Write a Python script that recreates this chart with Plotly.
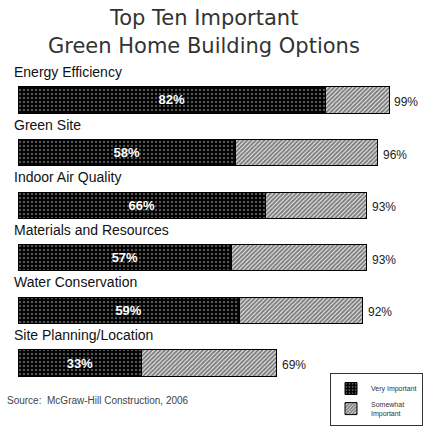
import plotly.graph_objects as go

# Survey results: share of respondents rating each option
options = [
    "Energy Efficiency",
    "Green Site",
    "Indoor Air Quality",
    "Materials and Resources",
    "Water Conservation",
    "Site Planning/Location",
]
very_important = [82, 58, 66, 57, 59, 33]
total_important = [99, 96, 93, 93, 92, 69]
somewhat_important = [t - v for t, v in zip(total_important, very_important)]

title_lines = ["Top Ten Important", "Green Home Building Options"]
source_text = "Source:  McGraw-Hill Construction, 2006"

ypos = list(range(len(options)))
FONT = "Liberation Sans, Arial, sans-serif"
TITLE_FONT = "DejaVu Sans, sans-serif"

fig = go.Figure()

fig.add_trace(go.Bar(
    name="Very Important",
    y=ypos,
    x=very_important,
    orientation="h",
    width=0.5,
    text=[f"{v}%" for v in very_important],
    textposition="inside",
    insidetextanchor="middle",
    textfont=dict(family=FONT, size=13, color="white", weight="bold"),
    marker=dict(
        color="black",
        line=dict(color="black", width=1),
        pattern=dict(shape=".", bgcolor="black", fgcolor="#a8a8a8",
                     size=4, solidity=0.3),
    ),
    hoverinfo="skip",
))

fig.add_trace(go.Bar(
    name="Somewhat<br>Important",
    y=ypos,
    x=somewhat_important,
    orientation="h",
    width=0.5,
    marker=dict(
        color="white",
        line=dict(color="black", width=1),
        pattern=dict(shape="/", bgcolor="white", fgcolor="black",
                     size=3, solidity=0.72),
    ),
    hoverinfo="skip",
))

annotations = []
# Option names above each bar
for i, name in enumerate(options):
    annotations.append(dict(
        x=0, xref="paper", y=i, yref="y", text=name, showarrow=False,
        xanchor="left", yanchor="middle", xshift=-6, yshift=28,
        font=dict(family=FONT, size=14, color="#111"),
    ))
# Combined percentage to the right of each bar
for i, t in enumerate(total_important):
    annotations.append(dict(
        x=t, xref="x", y=i, yref="y", text=f"{t}%", showarrow=False,
        xanchor="left", yanchor="middle", xshift=3, yshift=-2,
        font=dict(family=FONT, size=12, color="#222"),
    ))

H = 427
top, bottom = 60, 24
plot_h = H - top - bottom


def paper_y(px):
    return (H - bottom - px) / plot_h


# Title, two centred lines
for text, py in zip(title_lines, (18, 46)):
    annotations.append(dict(
        x=0.5, xref="paper", y=paper_y(py), yref="paper", text=text,
        showarrow=False, xanchor="center", yanchor="middle", xshift=-19,
        font=dict(family=TITLE_FONT, size=21, color="#333"),
    ))
# Source note
annotations.append(dict(
    x=0, xref="paper", y=paper_y(400), yref="paper", text=source_text,
    showarrow=False, xanchor="left", yanchor="middle", xshift=-13,
    font=dict(family=FONT, size=10, color="#444"),
))

fig.update_layout(
    width=428,
    height=H,
    margin=dict(l=18, r=1, t=top, b=bottom),
    paper_bgcolor="white",
    plot_bgcolor="white",
    barmode="stack",
    xaxis=dict(range=[0, 109.07], visible=False, fixedrange=True),
    yaxis=dict(range=[5.76, -0.76], visible=False, fixedrange=True),
    annotations=annotations,
    showlegend=True,
    legend=dict(
        x=(330 - 18) / 409, xanchor="left",
        y=paper_y(373), yanchor="top",
        bgcolor="white",
        bordercolor="#333", borderwidth=1,
        font=dict(family=FONT, size=7, color="#333"),
        traceorder="normal",
        itemwidth=30,
        tracegroupgap=4,
    ),
)

fig.write_html("out.html")
